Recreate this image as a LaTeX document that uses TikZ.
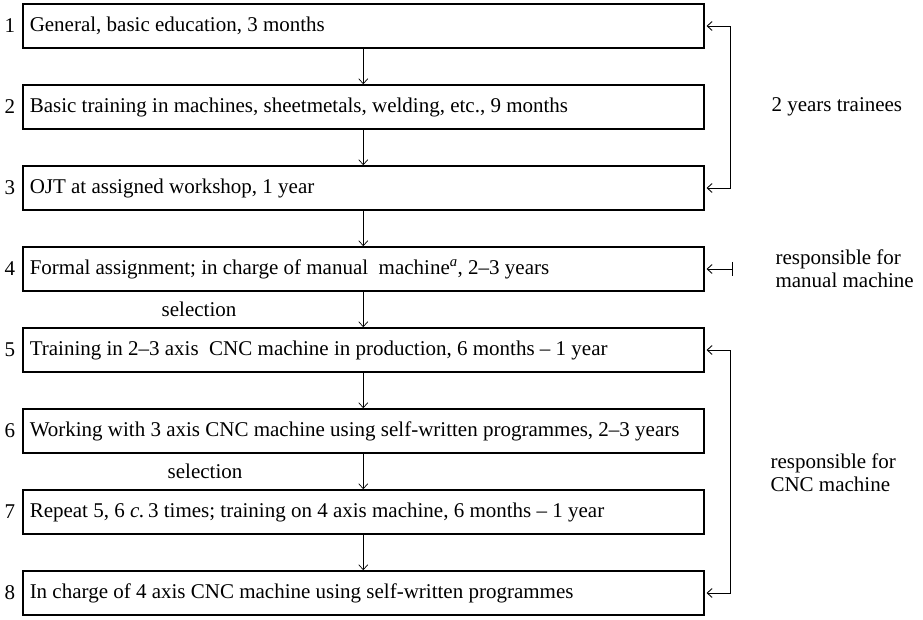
\documentclass[tikz,border=0pt]{standalone}
\usepackage{fontspec}
\setmainfont{Liberation Serif}
\usetikzlibrary{arrows.meta}
\newcommand\boxtext[1]{\makebox[667pt][l]{#1}}
\begin{document}
\begin{tikzpicture}[x=1pt,y=-1pt,
  font=\fontsize{21}{23}\selectfont,
  stepbox/.style={draw,line width=1.5pt,minimum width=681pt,minimum height=44pt,
    inner xsep=7pt,inner ysep=0pt,anchor=west},
  numlab/.style={anchor=center},
  conn/.style={line width=0.7pt,-{Straight Barb[length=5pt,width=9pt]}},
  brk/.style={line width=0.9pt,{Straight Barb[length=5pt,width=9pt]}-{Straight Barb[length=5pt,width=9pt]},shorten <=2pt,shorten >=2pt},
  side/.style={anchor=west,align=left}]
\useasboundingbox (0,0) rectangle (923,620);
\node[stepbox] (b1) at (22,26) {\boxtext{General, basic education, 3 months}};
\node[stepbox] (b2) at (22,107) {\boxtext{Basic training in machines, sheetmetals, welding, etc., 9 months}};
\node[stepbox] (b3) at (22,188) {\boxtext{OJT at assigned workshop, 1 year}};
\node[stepbox] (b4) at (22,269) {\boxtext{Formal assignment; in charge of manual\ \ machine\textsuperscript{\textit{a}}, 2--3 years}};
\node[stepbox] (b5) at (22,350) {\boxtext{Training in 2--3 axis\ \ CNC machine in production, 6 months -- 1 year}};
\node[stepbox] (b6) at (22,431) {\boxtext{Working with 3 axis CNC machine using self-written programmes, 2--3 years}};
\node[stepbox] (b7) at (22,512) {\boxtext{Repeat 5, 6 \textit{c.}\,3 times; training on 4 axis machine, 6 months -- 1 year}};
\node[stepbox] (b8) at (22,593) {\boxtext{In charge of 4 axis CNC machine using self-written programmes}};
\foreach \i/\y in {1/26,2/107,3/188,4/269,5/350,6/431,7/512,8/593}
  \node[numlab] (n\i) at (10,\y) {\i};
\draw[conn] (b1.south) -- (b2.north);
\draw[conn] (b2.south) -- (b3.north);
\draw[conn] (b3.south) -- (b4.north);
\draw[conn] (b4.south) -- (b5.north);
\draw[conn] (b5.south) -- (b6.north);
\draw[conn] (b6.south) -- (b7.north);
\draw[conn] (b7.south) -- (b8.north);
\node (s1) at (199,309.5) {selection};
\node (s2) at (205,471.5) {selection};
\coordinate (br) at (730,0);
\coordinate (tk) at (733,0);
\draw[brk] (b1.east) -- (b1.east -| br) -- (b3.east -| br) -- (b3.east);
\draw[brk] (b5.east) -- (b5.east -| br) -- (b8.east -| br) -- (b8.east);
\draw[line width=0.9pt,{Bar[width=14pt]}-{Straight Barb[length=5pt,width=9pt]},shorten >=2pt] (b4.east -| tk) -- (b4.east);
\node[side] (t1) at (768,107) {2 years trainees};
\node[side] (t2) at (772,269) {responsible for\\manual machine};
\node[side] (t3) at (767,473) {responsible for\\CNC machine};
\end{tikzpicture}
\end{document}
